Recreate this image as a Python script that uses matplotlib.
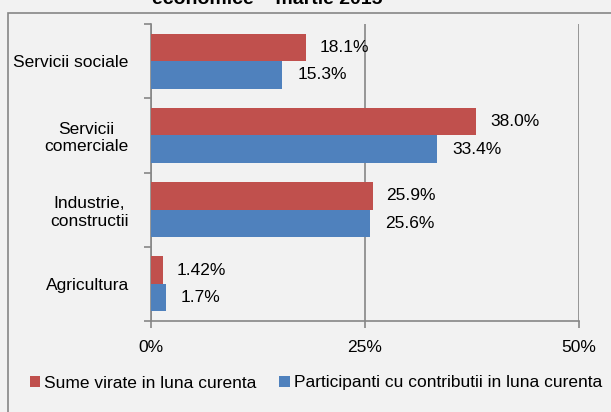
import matplotlib.pyplot as plt
from matplotlib.patches import Rectangle

plt.rcParams['font.family'] = ['Liberation Sans', 'DejaVu Sans']

categories = ['Agricultura', 'Industrie,\nconstructii', 'Servicii\ncomerciale', 'Servicii sociale']
sume = [1.42, 25.9, 38.0, 18.1]
participanti = [1.7, 25.6, 33.4, 15.3]
sume_labels = ['1.42%', '25.9%', '38.0%', '18.1%']
part_labels = ['1.7%', '25.6%', '33.4%', '15.3%']
xticks = [0, 25, 50]
xtick_labels = ['0%', '25%', '50%']

red = '#c0504d'
blue = '#4f81bd'
bg = '#f2f2f2'
gray = '#868686'
fs = 12.5

W, H = 611, 412
fig = plt.figure(figsize=(W / 100, H / 100), dpi=100, facecolor=bg)
ax = fig.add_axes([151 / W, 1 - 321 / H, (579 - 151) / W, (321 - 24) / H])
ax.set_facecolor(bg)

# outer chart border (cut off on right / bottom)
fig.patches.append(Rectangle((8 / W, -0.05), 1.2, 1 - 13 / H + 0.05, transform=fig.transFigure,
                             fill=False, edgecolor=gray, lw=1.2, zorder=0))

h = 0.37
ypos = list(range(len(categories)))
bars_r = ax.barh([y + h / 2 for y in ypos], sume, height=h, color=red, label='Sume virate in luna curenta', zorder=3)
bars_b = ax.barh([y - h / 2 for y in ypos], participanti, height=h, color=blue,
                 label='Participanti cu contributii in luna curenta', zorder=3)

for bar, lab in zip(bars_r, sume_labels):
    ax.annotate(lab, (bar.get_width(), bar.get_y() + bar.get_height() / 2), xytext=(10, 0),
                textcoords='offset points', va='center', ha='left', fontsize=fs)
for bar, lab in zip(bars_b, part_labels):
    ax.annotate(lab, (bar.get_width(), bar.get_y() + bar.get_height() / 2), xytext=(11, 0),
                textcoords='offset points', va='center', ha='left', fontsize=fs)

ax.set_xlim(0, 50)
ax.set_ylim(-0.5, 3.5)
ax.set_xticks(xticks)
ax.set_xticklabels(xtick_labels, fontsize=fs)
ax.set_yticks(ypos)
ax.set_yticklabels(categories, fontsize=fs, ha='right', multialignment='center')
ax.set_yticks([-0.5, 0.5, 1.5, 2.5, 3.5], minor=True)
ax.tick_params(axis='y', which='major', length=0, pad=16)
ax.tick_params(axis='y', which='minor', length=5, color=gray, width=1.2)
ax.tick_params(axis='x', length=5, color=gray, width=1.2, pad=9)

ax.grid(axis='x', color=gray, lw=1.2, zorder=1)
for s in ['top', 'right']:
    ax.spines[s].set_visible(False)
for s in ['left', 'bottom']:
    ax.spines[s].set_color(gray)
    ax.spines[s].set_linewidth(1.2)

fig.text(267 / W, 1 - 4 / H, 'economice \u2013 martie 2015', ha='center', va='baseline',
         fontsize=14, fontweight='bold')

fig.legend(loc='center', bbox_to_anchor=(316 / W, 1 - 383 / H), ncol=2, frameon=False,
           fontsize=fs, handlelength=0.6, handleheight=0.6, handletextpad=0.25, columnspacing=1.3)

fig.savefig('out.png', dpi=100, facecolor=bg)
